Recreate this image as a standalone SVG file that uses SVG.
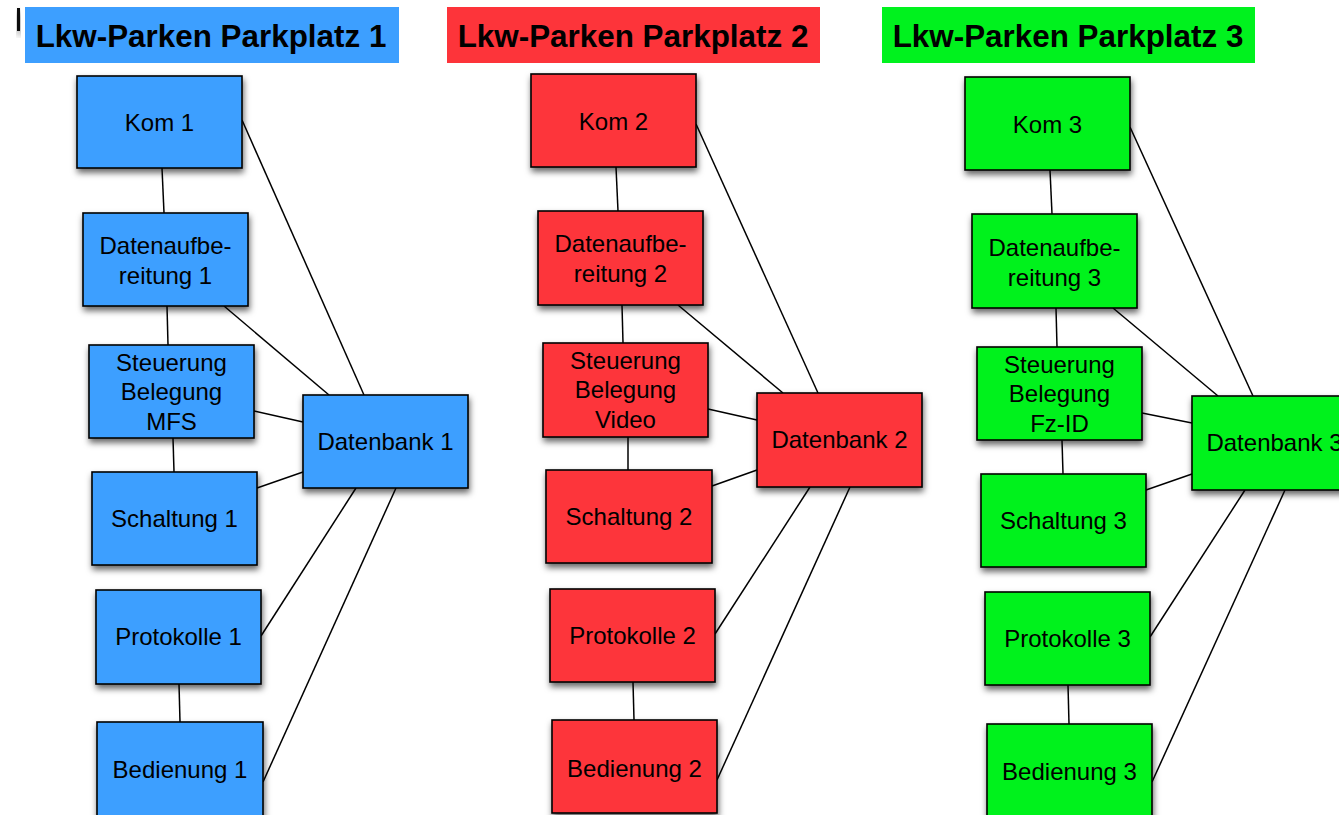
<svg xmlns="http://www.w3.org/2000/svg" width="1339" height="815" viewBox="0 0 1339 815">
  <defs>
    <filter id="shadow" x="-20%" y="-20%" width="140%" height="150%">
      <feDropShadow dx="1" dy="4" stdDeviation="3" flood-color="#000" flood-opacity="0.6"/>
    </filter>
  </defs>
  <style>
    .box { stroke: #000; stroke-width: 1.6; filter: url(#shadow); }
    .blue { fill: #3d9fff; }
    .red { fill: #fd343a; }
    .green { fill: #00f21e; }
    .lbl { font-family: "Liberation Sans", Arial, sans-serif; font-size: 24px; fill: #000; text-anchor: middle; }
    .title { font-family: "Liberation Sans", Arial, sans-serif; font-size: 31.4px; font-weight: bold; fill: #000; text-anchor: middle; }
    .edge { stroke: #000; stroke-width: 1.5; fill: none; }
  </style>
  <rect width="1339" height="815" fill="#fff"/>

  <!-- cursor mark -->
  <rect x="17" y="8" width="3" height="23" fill="#111" filter="url(#shadow)"/>

  <!-- connectors -->
  <g id="connectors">
    <!-- Parkplatz 1 -->
    <line class="edge" x1="162" y1="168" x2="164" y2="213"/>
    <line class="edge" x1="242" y1="120" x2="364" y2="395"/>
    <line class="edge" x1="167" y1="306" x2="168" y2="345"/>
    <line class="edge" x1="224" y1="306" x2="329" y2="395"/>
    <line class="edge" x1="254" y1="411" x2="303" y2="422"/>
    <line class="edge" x1="173" y1="438" x2="174" y2="472"/>
    <line class="edge" x1="257" y1="488" x2="303" y2="472"/>
    <line class="edge" x1="356" y1="488" x2="261" y2="636"/>
    <line class="edge" x1="396" y1="488" x2="263" y2="782"/>
    <line class="edge" x1="179" y1="684" x2="180" y2="722"/>
    <!-- Parkplatz 2 -->
    <line class="edge" x1="616" y1="167" x2="618" y2="211"/>
    <line class="edge" x1="696" y1="124" x2="818" y2="393"/>
    <line class="edge" x1="622" y1="305" x2="623" y2="343"/>
    <line class="edge" x1="678" y1="305" x2="783" y2="393"/>
    <line class="edge" x1="708" y1="409" x2="757" y2="420"/>
    <line class="edge" x1="628" y1="437" x2="628" y2="470"/>
    <line class="edge" x1="712" y1="486" x2="757" y2="470"/>
    <line class="edge" x1="810" y1="487" x2="715" y2="634"/>
    <line class="edge" x1="850" y1="487" x2="717" y2="780"/>
    <line class="edge" x1="633" y1="682" x2="634" y2="720"/>
    <!-- Parkplatz 3 -->
    <line class="edge" x1="1050" y1="170" x2="1052" y2="214"/>
    <line class="edge" x1="1130" y1="127" x2="1253" y2="396"/>
    <line class="edge" x1="1056" y1="308" x2="1057" y2="347"/>
    <line class="edge" x1="1113" y1="308" x2="1218" y2="396"/>
    <line class="edge" x1="1142" y1="413" x2="1192" y2="423"/>
    <line class="edge" x1="1062" y1="440" x2="1063" y2="474"/>
    <line class="edge" x1="1146" y1="490" x2="1192" y2="474"/>
    <line class="edge" x1="1245" y1="490" x2="1150" y2="637"/>
    <line class="edge" x1="1285" y1="490" x2="1152" y2="782"/>
    <line class="edge" x1="1068" y1="685" x2="1069" y2="724"/>
  </g>

  <!-- headings -->
  <g id="title-1"><rect x="25" y="7" width="374" height="56" fill="#3d9fff"/><text class="title" x="211" y="47">Lkw-Parken Parkplatz 1</text></g>
  <g id="title-2"><rect x="447" y="7" width="373" height="56" fill="#fd343a"/><text class="title" x="633" y="47">Lkw-Parken Parkplatz 2</text></g>
  <g id="title-3"><rect x="882" y="7" width="373" height="56" fill="#00f21e"/><text class="title" x="1068" y="47">Lkw-Parken Parkplatz 3</text></g>

  <!-- Parkplatz 1 nodes -->
  <g id="kom-1"><rect class="box blue" x="77" y="76" width="165" height="92"/><text class="lbl" x="159.5" y="131">Kom 1</text></g>
  <g id="datenaufbereitung-1"><rect class="box blue" x="83" y="213" width="165" height="93"/><text class="lbl" x="165.5" y="254">Datenaufbe-</text><text class="lbl" x="165.5" y="284">reitung 1</text></g>
  <g id="steuerung-1"><rect class="box blue" x="89" y="345" width="165" height="93"/><text class="lbl" x="171.5" y="371">Steuerung</text><text class="lbl" x="171.5" y="400">Belegung</text><text class="lbl" x="171.5" y="430">MFS</text></g>
  <g id="schaltung-1"><rect class="box blue" x="92" y="472" width="165" height="93"/><text class="lbl" x="174.5" y="527">Schaltung 1</text></g>
  <g id="protokolle-1"><rect class="box blue" x="96" y="590" width="165" height="94"/><text class="lbl" x="178.5" y="645">Protokolle 1</text></g>
  <g id="bedienung-1"><rect class="box blue" x="97" y="722" width="166" height="96"/><text class="lbl" x="180" y="778">Bedienung 1</text></g>
  <g id="datenbank-1"><rect class="box blue" x="303" y="395" width="165" height="93"/><text class="lbl" x="385.5" y="450">Datenbank 1</text></g>

  <!-- Parkplatz 2 nodes -->
  <g id="kom-2"><rect class="box red" x="531" y="74" width="165" height="93"/><text class="lbl" x="613.5" y="130">Kom 2</text></g>
  <g id="datenaufbereitung-2"><rect class="box red" x="538" y="211" width="165" height="94"/><text class="lbl" x="620.5" y="252">Datenaufbe-</text><text class="lbl" x="620.5" y="282">reitung 2</text></g>
  <g id="steuerung-2"><rect class="box red" x="543" y="343" width="165" height="94"/><text class="lbl" x="625.5" y="369">Steuerung</text><text class="lbl" x="625.5" y="398">Belegung</text><text class="lbl" x="625.5" y="428">Video</text></g>
  <g id="schaltung-2"><rect class="box red" x="546" y="470" width="166" height="93"/><text class="lbl" x="629" y="525">Schaltung 2</text></g>
  <g id="protokolle-2"><rect class="box red" x="550" y="589" width="165" height="93"/><text class="lbl" x="632.5" y="644">Protokolle 2</text></g>
  <g id="bedienung-2"><rect class="box red" x="552" y="720" width="165" height="93"/><text class="lbl" x="634.5" y="777">Bedienung 2</text></g>
  <g id="datenbank-2"><rect class="box red" x="757" y="393" width="165" height="94"/><text class="lbl" x="839.5" y="448">Datenbank 2</text></g>

  <!-- Parkplatz 3 nodes -->
  <g id="kom-3"><rect class="box green" x="965" y="77" width="165" height="93"/><text class="lbl" x="1047.5" y="133">Kom 3</text></g>
  <g id="datenaufbereitung-3"><rect class="box green" x="972" y="214" width="165" height="94"/><text class="lbl" x="1054.5" y="256">Datenaufbe-</text><text class="lbl" x="1054.5" y="286">reitung 3</text></g>
  <g id="steuerung-3"><rect class="box green" x="977" y="347" width="165" height="93"/><text class="lbl" x="1059.5" y="373">Steuerung</text><text class="lbl" x="1059.5" y="402">Belegung</text><text class="lbl" x="1059.5" y="432">Fz-ID</text></g>
  <g id="schaltung-3"><rect class="box green" x="981" y="474" width="165" height="93"/><text class="lbl" x="1063.5" y="529">Schaltung 3</text></g>
  <g id="protokolle-3"><rect class="box green" x="985" y="592" width="165" height="93"/><text class="lbl" x="1067.5" y="647">Protokolle 3</text></g>
  <g id="bedienung-3"><rect class="box green" x="987" y="724" width="165" height="94"/><text class="lbl" x="1069.5" y="780">Bedienung 3</text></g>
  <g id="datenbank-3"><rect class="box green" x="1192" y="396" width="165" height="94"/><text class="lbl" x="1274.5" y="451">Datenbank 3</text></g>
</svg>
